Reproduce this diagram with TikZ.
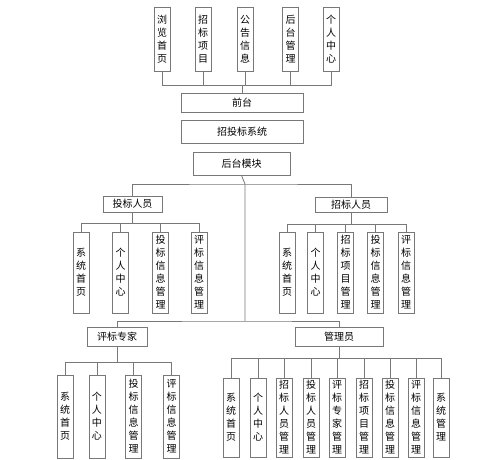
\documentclass[tikz,border=0pt]{standalone}
\usepackage{fontspec}
\setmainfont{Noto Sans CJK SC}
\definecolor{boxline}{RGB}{120,120,120}

\begin{document}
\begin{tikzpicture}[x=1pt,y=-1pt]
  \tikzstyle{box}=[draw=boxline,line width=0.8pt,inner sep=0pt,font=\fontsize{10}{13}\selectfont]
  \tikzstyle{leaf}=[box,align=center,minimum width=16pt]
  \tikzstyle{link}=[draw=boxline,line width=0.8pt]
  \useasboundingbox (0,0) rectangle (499,460);
  % front end pages
  \foreach \i/\x/\txt in {1/162/{浏\\览\\首\\页},2/203/{招\\标\\项\\目},3/245/{公\\告\\信\\息},
      4/290.5/{后\\台\\管\\理},5/331/{个\\人\\中\\心}}
    {\node[leaf,minimum height=64pt] at (\x,39) (q\i) {\txt};}
  \node[box,minimum width=122pt,minimum height=19pt] at (242,102.5) (front) {前台};
  \node[box,minimum width=122pt,minimum height=23pt] at (242,131.5) (sys) {招投标系统};
  \node[box,minimum width=97pt,minimum height=23pt] at (241.5,163.5) (back) {后台模块};
  \coordinate (fc) at (242,85);
  \foreach \i in {1,...,5} {\draw[link] (q\i.south) |- (fc) -- (front.north);}
  % roles
  \node[box,minimum width=59pt,minimum height=16pt] at (132.5,204) (bidder) {投标人员};
  \node[box,minimum width=72pt,minimum height=15pt] at (351,204.5) (tenderer) {招标人员};
  \node[box,minimum width=60pt,minimum height=19pt] at (117,336.5) (expert) {评标专家};
  \node[box,minimum width=88pt,minimum height=19pt] at (339,336.5) (admin) {管理员};
  \coordinate (j1) at (245,184);
  \coordinate (j2) at (245,321);
  \draw[link] (back.south) -- (j1) -- (j2);
  \draw[link] (bidder.north) |- (j1) -| (tenderer.north);
  \draw[link] (expert.north) |- (j2) -| (admin.north);
  % bidder
  \coordinate (bb) at (132.5,223);
  \foreach \i/\x/\txt in {1/81/{系\\统\\首\\页},2/120.5/{个\\人\\中\\心},
      3/160.5/{投\\标\\信\\息\\管\\理},4/199/{评\\标\\信\\息\\管\\理}}
    {\node[leaf,minimum height=81pt] at (\x,272.5) (b\i) {\txt};
     \draw[link] (b\i.north) |- (bb) -- (bidder.south);}
  % tenderer
  \coordinate (tb) at (351,224);
  \foreach \i/\x/\txt in {1/287/{系\\统\\首\\页},2/315.5/{个\\人\\中\\心},
      3/345.5/{招\\标\\项\\目\\管\\理},4/375.5/{投\\标\\信\\息\\管\\理},
      5/406/{评\\标\\信\\息\\管\\理}}
    {\node[leaf,minimum height=81pt] at (\x,272.5) (t\i) {\txt};
     \draw[link] (t\i.north) |- (tb) -- (tenderer.south);}
  % expert
  \coordinate (eb) at (117,362);
  \foreach \i/\x/\txt in {1/65/{系\\统\\首\\页},2/97/{个\\人\\中\\心},
      3/133.5/{投\\标\\信\\息\\管\\理},4/171.5/{评\\标\\信\\息\\管\\理}}
    {\node[leaf,minimum height=83pt] at (\x,416.5) (e\i) {\txt};
     \draw[link] (e\i.north) |- (eb) -- (expert.south);}
  % admin
  \coordinate (ab) at (339,358);
  \foreach \i/\x/\txt in {1/231/{系\\统\\首\\页},2/258/{个\\人\\中\\心},
      3/284/{招\\标\\人\\员\\管\\理},4/311/{投\\标\\人\\员\\管\\理},
      5/337/{评\\标\\专\\家\\管\\理},6/364/{招\\标\\项\\目\\管\\理},
      7/390/{投\\标\\信\\息\\管\\理},8/416/{评\\标\\信\\息\\管\\理},
      9/441/{系\\统\\管\\理}}
    {\node[leaf,minimum height=79pt] at (\x,417.5) (a\i) {\txt};
     \draw[link] (a\i.north) |- (ab) -- (admin.south);}
\end{tikzpicture}
\end{document}
